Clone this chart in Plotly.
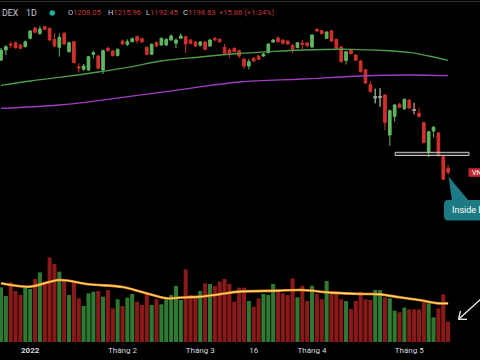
import plotly.graph_objects as go

# ---------------- data ----------------
dates = (
    ["2021-12-24", "2021-12-27", "2021-12-28", "2021-12-29", "2021-12-30", "2021-12-31"]
    + ["2022-01-%02d" % d for d in (4, 5, 6, 7, 10, 11, 12, 13, 14, 17, 18, 19, 20, 21, 24, 25, 26, 27, 28)]
    + ["2022-02-%02d" % d for d in (7, 8, 9, 10, 11, 14, 15, 16, 17, 18, 21, 22, 23, 24, 25, 28)]
    + ["2022-03-%02d" % d for d in (1, 2, 3, 4, 7, 8, 9, 10, 11, 14, 15, 16, 17, 18, 21, 22, 23, 24, 25, 28, 29, 30, 31)]
    + ["2022-04-%02d" % d for d in (1, 4, 5, 6, 7, 8, 12, 13, 14, 15, 18, 19, 20, 21, 22, 25, 26, 27, 28, 29)]
    + ["2022-05-%02d" % d for d in (4, 5, 6, 9, 10, 11, 12, 13, 16)]
)

opens = [1457, 1480, 1493.8, 1496.8, 1491.5, 1487.6, 1506.9, 1530.6, 1517.5, 1533.6,
         1529.9, 1504.6, 1486.2, 1518.4, 1476.1, 1499.1, 1441.6, 1435.6, 1434, 1470.1,
         1466.2, 1434, 1483.9, 1477.7, 1467.4, 1500.7, 1493.1, 1499.1, 1510.6, 1506,
         1486.2, 1470.1, 1497.7, 1491.5, 1491.5, 1503, 1495.4, 1506.9, 1510.6, 1503,
         1498.4, 1490.8, 1498.4, 1489.2, 1506.9, 1504.6, 1486.2, 1480, 1483.9, 1478.4,
         1458.6, 1443.2, 1460.9, 1466.2, 1466.2, 1473.8, 1498.4, 1507.6, 1503, 1500.7,
         1490.4, 1485.8, 1496.1, 1496.1, 1486.9, 1527.6, 1524.4, 1506.9, 1524.4, 1504.6,
         1486.9, 1455.9, 1480, 1468.5, 1454.7, 1434.7, 1400.2, 1369.6, 1370.8, 1376.5,
         1284.5, 1327.1, 1355.1, 1344.8, 1365, 1343.2, 1334.4, 1312.8, 1244.3, 1293.7,
         1289.1, 1234.6, 1208.05]
highs = [1484.6, 1491.5, 1499.1, 1499.6, 1493.8, 1501.9, 1526, 1533.6, 1535.2, 1535.9,
         1531.8, 1518.4, 1518.4, 1521.4, 1499.1, 1501.4, 1449.4, 1447.8, 1466.2, 1478.4,
         1468.5, 1481.6, 1487.6, 1480, 1483.5, 1504.2, 1504.6, 1508.8, 1512.9, 1508.3,
         1488.1, 1495, 1499.6, 1508.8, 1506.5, 1516.1, 1506.9, 1518.4, 1512.2, 1505.3,
         1500.7, 1500.7, 1500.7, 1505.3, 1509.9, 1506.5, 1493.8, 1483.9, 1485.8, 1481.2,
         1463.2, 1459.3, 1463.9, 1468.5, 1473.1, 1495, 1505.3, 1512.2, 1504.2, 1501.9,
         1493.8, 1498.4, 1503, 1499.1, 1516.1, 1529.9, 1526, 1523, 1526, 1505.3,
         1489.2, 1477.7, 1482.3, 1469.7, 1457, 1436.3, 1408.7, 1391, 1391.9, 1378.8,
         1343.2, 1355.8, 1358.1, 1368.5, 1366.2, 1358.8, 1347.3, 1315.6, 1293.7, 1305.2,
         1291.4, 1237.4, 1215.96]
lows = [1454.7, 1468.5, 1483.9, 1483.5, 1481.2, 1485.8, 1504.2, 1518.4, 1515.7, 1524.9,
        1500.7, 1486.2, 1464.6, 1491.5, 1474.3, 1449, 1427.8, 1432.4, 1431.7, 1460.9,
        1435.6, 1424.8, 1476.1, 1465.1, 1465.1, 1491.5, 1489.2, 1497.3, 1495.4, 1495.4,
        1467.4, 1468.5, 1486.9, 1489.2, 1489.2, 1500.7, 1484.6, 1505.3, 1473.1, 1492.7,
        1486.9, 1488.1, 1478.9, 1486.9, 1500.7, 1496.1, 1469.7, 1461.6, 1474.3, 1461.6,
        1437, 1435.6, 1452.4, 1457, 1463.9, 1472, 1496.1, 1496.1, 1492.7, 1491.5,
        1473.1, 1483.5, 1482.3, 1485.8, 1484.6, 1521.4, 1515.7, 1505.3, 1498.4, 1481.2,
        1451.3, 1446.7, 1469.7, 1454.7, 1428.3, 1401.8, 1382.3, 1357.4, 1349.6, 1296,
        1259.2, 1315.1, 1345.9, 1342, 1344.3, 1332.1, 1324.8, 1265, 1233.9, 1278.8,
        1233.9, 1181, 1192.45]
closes = [1480, 1487.6, 1491.5, 1485.3, 1483.9, 1499.1, 1523.7, 1520.7, 1528.3, 1527.6,
          1503, 1489.2, 1509.2, 1493.8, 1496.8, 1450.8, 1438.6, 1443.2, 1464.6, 1473.8,
          1437.9, 1478.4, 1478.4, 1467.4, 1481.6, 1493.8, 1499.1, 1506, 1501.4, 1499.1,
          1470.1, 1493.1, 1489.2, 1506.9, 1504.6, 1512.2, 1503, 1512.2, 1493.8, 1495.4,
          1489.2, 1498.4, 1481.6, 1503, 1503, 1499.1, 1472.4, 1472.4, 1476.1, 1466.2,
          1443.2, 1453.1, 1454.7, 1458.6, 1470.8, 1493.8, 1503, 1499.1, 1495.4, 1493.8,
          1481.6, 1496.8, 1492.7, 1490.4, 1514.5, 1523.7, 1517.5, 1521.4, 1500.7, 1483.9,
          1453.1, 1476.1, 1471.5, 1456.3, 1430.1, 1404.1, 1384.1, 1372.6, 1373.1, 1313.3,
          1340.4, 1353.5, 1348.2, 1366.6, 1346.6, 1340.9, 1327.1, 1267.3, 1292.1, 1302.2,
          1238.5, 1182.77, 1198.63]
volumes = [820, 690, 895, 765, 705, 820, 795, 945, 1045, 905,
           1270, 1170, 1055, 920, 705, 890, 655, 540, 730, 755,
           765, 680, 780, 505, 640, 540, 665, 720, 605, 555,
           720, 555, 640, 565, 640, 705, 840, 630, 1090, 705,
           680, 765, 880, 870, 840, 905, 945, 870, 605, 815,
           815, 615, 530, 655, 720, 705, 870, 770, 730, 705,
           955, 670, 845, 615, 845, 720, 640, 915, 720, 720,
           640, 615, 495, 615, 755, 640, 630, 780, 780, 670,
           655, 470, 445, 515, 490, 490, 490, 595, 580, 370,
           505, 715, 305]
neutral_idx = [77, 78, 85]  # tiny-bodied candles drawn grey

ma_green_idx = [0, 6, 12, 20, 27, 33, 41, 49, 55, 62, 72, 79, 84, 88, 92]
ma_green_val = [1398.6, 1408.7, 1416.8, 1429.4, 1442, 1454.7, 1463.9, 1471.9, 1476.1,
                1480, 1481.6, 1478.9, 1474.3, 1466.2, 1455.9]
ma_purple_idx = [0, 12, 25, 37, 49, 62, 74, 84, 92]
ma_purple_val = [1345.9, 1353.5, 1370.8, 1389.1, 1406.4, 1413.3, 1420.2, 1422.5, 1420.9]
vol_ma_idx = [0, 6, 12, 18, 25, 29, 34, 37, 41, 45, 49, 57, 62, 68, 74, 78, 82, 86, 90, 92]
vol_ma_val = [880, 830, 930, 866, 825, 750, 655, 668, 680, 715, 755, 770, 780, 740,
              720, 715, 670, 630, 580, 580]

tick_idx = [6, 25, 41, 52, 64, 84]
tick_text = ["<b>2022</b>", "Tháng 2", "Tháng 3", "16", "Tháng 4", "Tháng 5"]

zone_lo, zone_hi = 1237.4, 1244.7
zone_start, zone_end = 81.1, 96.3

# ---------------- figure ----------------
W, H = 480, 360
PLOT_H = 342
X_RANGE = [-0.206, 98.56]
PRICE_RANGE = [808.4, 1595]
VOL_RANGE = [0, 5130]

GREEN = "#5fb760"
RED = "#d0312d"
VOL_GREEN = "#2f7a32"
VOL_RED = "#8a1a1a"

x = list(range(len(dates)))


def pxx(px):
    return px / W


def pxy(py):
    return 1 - py / PLOT_H


fig = go.Figure()

vol_colors = [VOL_GREEN if c >= o else VOL_RED for o, c in zip(opens, closes)]
fig.add_trace(go.Bar(x=x, y=volumes, marker=dict(color=vol_colors, line=dict(width=0)),
                     yaxis="y", hoverinfo="skip"))
fig.add_trace(go.Scatter(x=vol_ma_idx, y=vol_ma_val, mode="lines", yaxis="y",
                         line=dict(color="#e8841c", width=2.6, shape="spline"), hoverinfo="skip"))
fig.add_trace(go.Scatter(x=vol_ma_idx, y=vol_ma_val, mode="lines", yaxis="y",
                         line=dict(color="#ffe17a", width=1.1, shape="spline"), hoverinfo="skip"))

fig.add_trace(go.Scatter(x=ma_purple_idx, y=ma_purple_val, mode="lines", yaxis="y2",
                         line=dict(color="#a03cc0", width=1.3, shape="spline"), hoverinfo="skip"))
fig.add_trace(go.Scatter(x=ma_green_idx, y=ma_green_val, mode="lines", yaxis="y2",
                         line=dict(color="#4f9a4a", width=1.3, shape="spline"), hoverinfo="skip"))

fig.add_trace(go.Candlestick(
    x=x, open=opens, high=highs, low=lows, close=closes, yaxis="y2",
    increasing=dict(line=dict(color=GREEN, width=1), fillcolor=GREEN),
    decreasing=dict(line=dict(color=RED, width=1), fillcolor=RED),
    whiskerwidth=0, hoverinfo="skip"))
fig.add_trace(go.Candlestick(
    x=neutral_idx, open=[opens[i] for i in neutral_idx], high=[highs[i] for i in neutral_idx],
    low=[lows[i] for i in neutral_idx], close=[closes[i] for i in neutral_idx], yaxis="y2",
    increasing=dict(line=dict(color="#a0a0a0", width=1), fillcolor="#a0a0a0"),
    decreasing=dict(line=dict(color="#a0a0a0", width=1), fillcolor="#a0a0a0"),
    whiskerwidth=0, hoverinfo="skip"))

shapes = [
    # top border
    dict(type="line", xref="paper", yref="paper", x0=0, x1=1, y0=pxy(1.5), y1=pxy(1.5),
         line=dict(color="#2f2f2f", width=1)),
    # header status dot
    dict(type="circle", xref="paper", yref="paper", x0=pxx(49.5), x1=pxx(55), y0=pxy(10.3),
         y1=pxy(15.8), fillcolor="#1fae9c", line=dict(width=0)),
    # support zone
    dict(type="rect", xref="x", yref="y2", x0=zone_start, x1=zone_end, y0=zone_lo, y1=zone_hi,
         line=dict(color="#c8c8c8", width=1), fillcolor="rgba(110,110,110,0.35)"),
    # callout wedge
    dict(type="path", xref="paper", yref="paper",
         path="M %f %f L %f %f L %f %f Z" % (pxx(448.5), pxy(176.5), pxx(452), pxy(201),
                                             pxx(469), pxy(201)),
         fillcolor="#1b7a83", line=dict(width=0)),
    # callout box (rounded)
    dict(type="path", xref="paper", yref="paper",
         path="M %f %f L %f %f L %f %f Q %f %f %f %f L %f %f Q %f %f %f %f Z" % (
             pxx(500), pxy(200), pxx(500), pxy(220.5), pxx(448), pxy(220.5),
             pxx(444), pxy(220.5), pxx(444), pxy(216.5),
             pxx(444), pxy(204), pxx(444), pxy(200), pxx(448), pxy(200)),
         fillcolor="#1b7a83", line=dict(width=0)),
    # price label box
    dict(type="rect", xref="paper", yref="paper", x0=pxx(468.5), x1=pxx(482),
         y0=pxy(176.8), y1=pxy(168.2), fillcolor="#c3262b", line=dict(width=0)),
    # arrow in volume pane
    dict(type="line", xref="paper", yref="paper", x0=pxx(481), y0=pxy(299), x1=pxx(458.5),
         y1=pxy(319.3), line=dict(color="#f0f0f0", width=1.3)),
    dict(type="line", xref="paper", yref="paper", x0=pxx(458.5), y0=pxy(319.3), x1=pxx(467),
         y1=pxy(319.3), line=dict(color="#f0f0f0", width=1.3)),
    dict(type="line", xref="paper", yref="paper", x0=pxx(458.5), y0=pxy(319.3), x1=pxx(460.5),
         y1=pxy(311), line=dict(color="#f0f0f0", width=1.3)),
]

FONT = "Roboto, Liberation Sans, sans-serif"
HDR_Y = pxy(13)
LBL = "#c9ccd4"
VAL = "#c8363a"


def hdr(px, text, color=LBL, size=7.6):
    return dict(x=pxx(px), y=HDR_Y, xref="paper", yref="paper", xanchor="left", yanchor="middle",
                text=text, showarrow=False, font=dict(family=FONT, size=size, color=color))


annotations = [
    hdr(-0.5, "DEX", size=8.8),
    hdr(24, "1D", size=8.8),
    hdr(66, "O<span style='color:%s'>1208.05</span>" % VAL),
    hdr(105.5, "H<span style='color:%s'>1215.96</span>" % VAL),
    hdr(144, "L<span style='color:%s'>1192.45</span>" % VAL),
    hdr(181, "C<span style='color:%s'>1198.63</span>" % VAL),
    hdr(217, "+15.86 (+1.34%)", color=VAL),
    dict(x=pxx(449.5), y=pxy(210.5), xref="paper", yref="paper", xanchor="left", yanchor="middle",
         text="Inside Bar", showarrow=False, font=dict(family=FONT, size=9, color="#ffffff")),
    dict(x=pxx(470.3), y=pxy(172.6), xref="paper", yref="paper", xanchor="left", yanchor="middle",
         text="VNINDEX", showarrow=False, font=dict(family=FONT, size=7.2, color="#ffffff")),
]

fig.update_layout(
    width=W, height=H,
    margin=dict(l=0, r=0, t=0, b=H - PLOT_H),
    paper_bgcolor="#000000", plot_bgcolor="#000000",
    showlegend=False, bargap=0.17, boxgap=0.22,
    xaxis=dict(range=X_RANGE, showgrid=False, zeroline=False, showline=False,
               tickmode="array", tickvals=tick_idx, ticktext=tick_text, ticks="",
               ticklabelstandoff=2,
               tickfont=dict(family=FONT, size=8, color="#d6d8de"),
               rangeslider=dict(visible=False), fixedrange=True),
    yaxis=dict(range=VOL_RANGE, showgrid=False, zeroline=False, showticklabels=False,
               fixedrange=True),
    yaxis2=dict(range=PRICE_RANGE, overlaying="y", showgrid=False, zeroline=False,
                showticklabels=False, fixedrange=True),
    shapes=shapes, annotations=annotations,
)

fig.write_html("out.html", config={"displayModeBar": False, "staticPlot": True})

# remove the browser's default page margin so the chart sits at the window origin
with open("out.html", "r", encoding="utf-8") as f:
    html = f.read()
html = html.replace("<head>", "<head><style>html,body{margin:0;padding:0;background:#000;overflow:hidden}</style>", 1)
with open("out.html", "w", encoding="utf-8") as f:
    f.write(html)
